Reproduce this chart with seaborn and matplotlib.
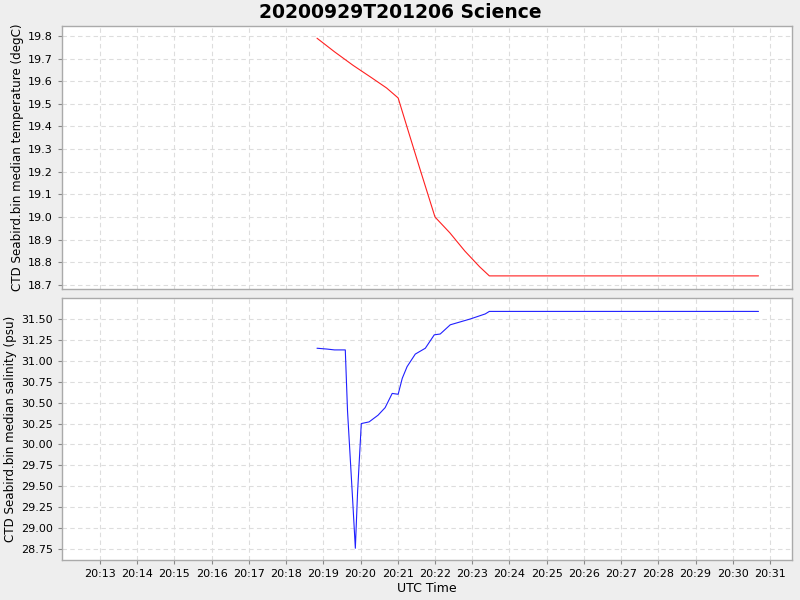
import pandas as pd
import numpy as np
import seaborn as sns
import matplotlib.pyplot as plt
import matplotlib.dates as mdates

# minutes after 20:00 UTC on 2020-09-29
temp_min = [18.83, 19.3, 19.8, 20.3, 20.7, 21.01, 21.3, 21.6, 22.0, 22.4, 22.8, 23.2, 23.46, 30.69]
temp_val = [19.79, 19.73, 19.67, 19.615, 19.57, 19.526, 19.37, 19.21, 19.0, 18.93, 18.85, 18.78, 18.74, 18.74]

sal_min = [18.83, 19.1, 19.3, 19.59, 19.65, 19.79, 19.86, 19.92, 20.02, 20.23, 20.47, 20.66, 20.85,
           21.01, 21.12, 21.25, 21.47, 21.74, 21.98, 22.14, 22.41, 22.95, 23.35, 23.46, 30.69]
sal_val = [31.15, 31.14, 31.13, 31.13, 30.4, 29.32, 28.76, 29.43, 30.25, 30.27, 30.35, 30.44, 30.61,
           30.60, 30.79, 30.93, 31.08, 31.15, 31.31, 31.32, 31.43, 31.50, 31.56, 31.59, 31.59]

tick_min = list(range(13, 32))

base = pd.Timestamp("2020-09-29 20:00:00")
df_t = pd.DataFrame({"time": base + pd.to_timedelta(temp_min, unit="m"), "temp": temp_val})
df_s = pd.DataFrame({"time": base + pd.to_timedelta(sal_min, unit="m"), "sal": sal_val})
ticks = base + pd.to_timedelta(tick_min, unit="m")

sns.set_style("white")
plt.rcParams['font.family'] = ['DejaVu Sans']
plt.rcParams['text.color'] = 'black'
plt.rcParams['axes.labelcolor'] = 'black'
plt.rcParams['xtick.labelcolor'] = 'black'
plt.rcParams['ytick.labelcolor'] = 'black'

fig = plt.figure(figsize=(8, 6), dpi=100, facecolor="#eeeeee")
ax1 = fig.add_axes([0.0775, 0.5183, 0.9125, 0.4384])
ax2 = fig.add_axes([0.0775, 0.0667, 0.9125, 0.4366], sharex=ax1)

sns.lineplot(data=df_t, x="time", y="temp", ax=ax1, color="#ff2020", linewidth=0.8)
sns.lineplot(data=df_s, x="time", y="sal", ax=ax2, color="#2020ff", linewidth=0.8)

xmin = base + pd.Timedelta(minutes=11.98)
xmax = base + pd.Timedelta(minutes=31.59)
ax1.set_xlim(xmin, xmax)
ax1.set_ylim(18.682, 19.844)
ax2.set_ylim(28.62, 31.75)

ax1.set_yticks(np.arange(18.7, 19.85, 0.1))
ax1.yaxis.set_major_formatter(plt.FormatStrFormatter("%.1f"))
ax2.set_yticks(np.arange(28.75, 31.6, 0.25))
ax2.yaxis.set_major_formatter(plt.FormatStrFormatter("%.2f"))

ax2.set_xticks(ticks)
ax2.xaxis.set_major_formatter(mdates.DateFormatter("%H:%M"))
ax1.tick_params(axis="x", labelbottom=False, length=0)

for ax in (ax1, ax2):
    ax.set_facecolor("white")
    ax.grid(True, color="#dddddd", linestyle=(0, (4, 3)), linewidth=0.8)
    ax.tick_params(axis="both", labelsize=8, length=3, color="#888888", direction="out")
    for s in ax.spines.values():
        s.set_color("#aaaaaa")
        s.set_linewidth(1)

ax1.set_ylabel("CTD Seabird.bin median temperature (degC)", fontsize=8.6, labelpad=3)
ax2.set_ylabel("CTD Seabird.bin median salinity (psu)", fontsize=8.6, labelpad=3)
ax1.set_xlabel("")
ax2.set_xlabel("UTC Time", fontsize=9, labelpad=2)
ax2.tick_params(axis="x", bottom=True)
ax1.tick_params(axis="y", left=True)
ax2.tick_params(axis="y", left=True)

fig.suptitle("20200929T201206 Science", fontsize=13.5, fontweight="bold", y=0.995)

fig.savefig("out.png", dpi=100, facecolor=fig.get_facecolor())
